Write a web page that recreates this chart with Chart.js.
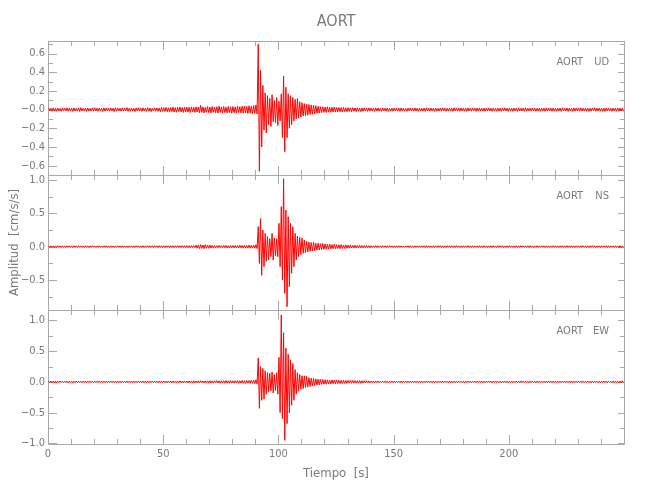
<!DOCTYPE html>
<html>
<head>
<meta charset="utf-8">
<title>AORT</title>
<script src="https://cdn.jsdelivr.net/npm/chart.js@4.4.1/dist/chart.umd.min.js"></script>
<style>
  body { margin: 0; background: #fff; }
  #wrap { position: relative; width: 650px; height: 500px; }
  #wrap canvas { position: absolute; left: 0; top: 0; }
</style>
</head>
<body>
<div id="wrap">
  <canvas id="ud" width="650" height="500"></canvas>
  <canvas id="ns" width="650" height="500"></canvas>
  <canvas id="ew" width="650" height="500"></canvas>
</div>
<script>
// ---- data: envelope of each 1 s window (upper peak / lower peak size) ----
const station = "AORT";
const xTicks = [0, 50, 100, 150, 200];

const udTicks = [-0.6, -0.4, -0.2, 0, 0.2, 0.4, 0.6];
const udTickLabels = ["\u22120.6", "\u22120.4", "\u22120.2", "\u22120.0", "0.2", "0.4", "0.6"];
const nsTicks = [-0.5, 0, 0.5, 1.0];
const nsTickLabels = ["\u22120.5", "0.0", "0.5", "1.0"];
const ewTicks = [-1.0, -0.5, 0, 0.5, 1.0];
const ewTickLabels = ["\u22121.0", "\u22120.5", "0.0", "0.5", "1.0"];

const udHi = [
  .016,.013,.019,.015,.017,.012,.018,.014,.02,.016,
  .015,.019,.013,.017,.021,.014,.016,.018,.013,.017,
  .019,.015,.017,.014,.02,.016,.013,.018,.015,.021,
  .017,.014,.019,.016,.022,.015,.018,.013,.017,.02,
  .016,.019,.015,.021,.017,.014,.02,.018,.016,.023,
  .021,.025,.019,.023,.027,.021,.024,.029,.022,.026,
  .028,.024,.03,.026,.031,.027,.045,.03,.025,.033,
  .028,.034,.026,.031,.037,.029,.033,.027,.035,.03,
  .033,.029,.037,.032,.036,.039,.033,.041,.037,.044,
  .05,.70,.42,.26,.18,.15,.12,.16,.10,.13,
  .09,.17,.36,.24,.17,.15,.13,.11,.12,.085,
  .075,.065,.06,.055,.05,.048,.042,.036,.032,.03,
  .028,.031,.026,.025,.028,.023,.024,.022,.025,.02,
  .022,.019,.021,.018,.02,.017,.019,.02,.016,.018,
  .017,.015,.019,.016,.014,.018,.015,.017,.013,.016,
  .018,.014,.016,.019,.015,.013,.017,.016,.014,.018,
  .015,.017,.013,.016,.019,.014,.016,.015,.018,.013,
  .016,.019,.015,.014,.017,.016,.02,.014,.015,.017,
  .014,.016,.018,.013,.016,.015,.017,.019,.014,.016,
  .015,.018,.014,.016,.013,.017,.015,.016,.019,.014,
  .016,.014,.017,.015,.018,.013,.016,.02,.015,.014,
  .017,.015,.013,.016,.018,.014,.017,.015,.016,.019,
  .014,.016,.015,.018,.013,.017,.016,.014,.019,.015,
  .016,.018,.014,.015,.017,.013,.016,.019,.015,.017,
  .014,.016,.018,.015,.013,.017,.016,.019,.015,.016
];
const udLo = [
  .015,.018,.013,.017,.014,.019,.016,.013,.017,.015,
  .018,.014,.016,.02,.015,.013,.019,.016,.014,.018,
  .015,.017,.013,.019,.016,.014,.018,.015,.02,.016,
  .014,.018,.016,.013,.019,.017,.015,.02,.014,.017,
  .019,.015,.018,.016,.021,.014,.017,.019,.022,.018,
  .02,.023,.027,.021,.025,.028,.022,.026,.03,.024,
  .027,.031,.025,.029,.026,.034,.03,.036,.028,.032,
  .035,.029,.033,.038,.03,.034,.031,.036,.032,.039,
  .034,.038,.031,.035,.04,.036,.042,.038,.045,.04,
  .046,.66,.40,.22,.25,.16,.18,.13,.14,.17,
  .12,.30,.45,.30,.20,.16,.12,.10,.09,.08,
  .07,.068,.06,.052,.05,.045,.04,.037,.033,.03,
  .029,.027,.03,.025,.026,.024,.022,.025,.021,.023,
  .02,.022,.019,.021,.017,.02,.018,.016,.019,.017,
  .016,.018,.015,.017,.019,.014,.016,.018,.015,.017,
  .014,.017,.019,.015,.016,.018,.014,.016,.017,.015,
  .018,.014,.016,.019,.015,.017,.014,.018,.016,.015,
  .017,.015,.018,.016,.014,.019,.015,.016,.018,.014,
  .016,.019,.015,.017,.014,.018,.016,.015,.017,.019,
  .016,.014,.018,.015,.017,.016,.019,.014,.016,.018,
  .015,.017,.014,.019,.016,.015,.018,.016,.014,.017,
  .016,.018,.015,.017,.014,.019,.016,.015,.018,.016,
  .017,.015,.019,.014,.016,.018,.015,.017,.016,.014,
  .018,.016,.015,.017,.019,.016,.014,.018,.016,.015,
  .017,.019,.015,.016,.018,.014,.017,.016,.015,.018
];

const nsHi = [
  .011,.013,.01,.012,.014,.011,.012,.01,.013,.012,
  .01,.013,.011,.014,.012,.01,.013,.011,.012,.014,
  .012,.01,.013,.011,.012,.014,.011,.013,.01,.012,
  .013,.011,.014,.012,.01,.013,.012,.011,.014,.012,
  .011,.013,.012,.014,.011,.013,.015,.012,.014,.013,
  .012,.014,.013,.015,.012,.014,.016,.013,.015,.014,
  .016,.014,.017,.015,.022,.026,.03,.025,.028,.022,
  .024,.019,.017,.015,.018,.016,.019,.017,.015,.018,
  .016,.019,.017,.02,.018,.021,.019,.022,.02,.024,
  .03,.30,.42,.25,.20,.15,.12,.20,.13,.12,
  .35,.60,1.02,.55,.45,.35,.30,.20,.16,.14,
  .13,.10,.08,.07,.062,.065,.05,.055,.045,.05,
  .04,.035,.04,.03,.035,.03,.028,.03,.025,.027,
  .022,.025,.02,.022,.018,.02,.017,.016,.018,.015,
  .014,.012,.015,.013,.011,.014,.012,.013,.015,.012,
  .011,.013,.014,.012,.01,.013,.012,.014,.011,.013,
  .012,.014,.011,.013,.015,.012,.01,.013,.012,.014,
  .013,.011,.012,.014,.012,.013,.011,.015,.012,.01,
  .013,.012,.014,.011,.013,.012,.01,.014,.012,.013,
  .011,.013,.012,.015,.011,.012,.014,.013,.01,.012,
  .014,.012,.011,.013,.012,.014,.013,.011,.012,.015,
  .012,.01,.013,.012,.014,.011,.013,.012,.011,.014,
  .013,.011,.012,.014,.01,.013,.012,.014,.011,.013,
  .012,.014,.013,.011,.012,.013,.015,.012,.011,.013,
  .012,.013,.011,.014,.012,.01,.013,.012,.014,.012
];
const nsLo = [
  .012,.01,.013,.011,.012,.014,.01,.013,.011,.012,
  .014,.011,.012,.01,.013,.012,.011,.014,.012,.01,
  .013,.012,.011,.014,.01,.012,.013,.011,.014,.012,
  .011,.013,.012,.01,.014,.011,.013,.012,.01,.013,
  .012,.014,.011,.013,.012,.015,.011,.013,.012,.014,
  .013,.012,.015,.013,.014,.012,.015,.014,.013,.016,
  .015,.017,.014,.016,.024,.028,.025,.03,.023,.026,
  .02,.022,.016,.018,.015,.019,.016,.018,.02,.017,
  .019,.017,.021,.018,.02,.022,.019,.023,.021,.025,
  .028,.25,.43,.30,.22,.20,.15,.20,.14,.15,
  .30,.50,.70,.90,.60,.40,.30,.20,.15,.12,
  .10,.09,.08,.07,.065,.06,.052,.05,.045,.04,
  .038,.036,.033,.03,.031,.028,.03,.026,.027,.024,
  .023,.021,.022,.019,.02,.017,.018,.016,.015,.017,
  .013,.011,.014,.012,.013,.011,.015,.012,.01,.013,
  .012,.014,.011,.013,.012,.01,.014,.012,.013,.011,
  .013,.012,.01,.014,.012,.011,.013,.015,.012,.011,
  .012,.014,.013,.011,.013,.012,.014,.01,.013,.012,
  .011,.013,.012,.014,.012,.011,.013,.012,.015,.011,
  .013,.012,.014,.011,.013,.012,.011,.014,.013,.012,
  .011,.013,.014,.012,.013,.011,.012,.014,.013,.011,
  .014,.012,.013,.011,.012,.014,.012,.013,.01,.012,
  .012,.014,.011,.013,.012,.011,.014,.012,.013,.012,
  .013,.011,.012,.014,.013,.012,.011,.013,.012,.014,
  .011,.012,.014,.013,.011,.013,.012,.014,.012,.013
];

const ewHi = [
  .012,.014,.011,.013,.012,.015,.011,.013,.012,.014,
  .011,.012,.014,.013,.011,.012,.015,.012,.013,.011,
  .013,.012,.014,.011,.013,.012,.011,.014,.012,.013,
  .014,.012,.013,.011,.015,.012,.013,.014,.011,.013,
  .012,.014,.013,.015,.012,.013,.014,.012,.015,.013,
  .014,.013,.015,.014,.016,.013,.015,.017,.014,.016,
  .015,.017,.016,.018,.015,.017,.019,.016,.018,.017,
  .019,.017,.018,.02,.017,.019,.018,.021,.019,.02,
  .018,.02,.022,.019,.023,.021,.025,.022,.026,.028,
  .035,.39,.25,.22,.18,.15,.14,.16,.12,.15,
  .40,1.09,.80,.55,.45,.36,.30,.20,.15,.12,
  .10,.10,.09,.07,.06,.055,.05,.045,.04,.04,
  .035,.033,.03,.032,.028,.03,.027,.025,.028,.024,
  .025,.022,.023,.021,.02,.022,.019,.02,.018,.017,
  .014,.012,.013,.015,.012,.011,.014,.013,.012,.015,
  .013,.011,.012,.014,.013,.012,.015,.011,.013,.012,
  .014,.013,.011,.012,.015,.013,.012,.014,.011,.013,
  .012,.015,.013,.011,.014,.012,.013,.012,.014,.011,
  .013,.012,.014,.013,.011,.015,.012,.013,.014,.012,
  .011,.014,.013,.012,.015,.011,.013,.014,.012,.013,
  .012,.013,.011,.014,.012,.015,.013,.012,.011,.014,
  .013,.012,.014,.011,.013,.012,.015,.013,.012,.014,
  .011,.013,.012,.014,.013,.011,.012,.015,.013,.012,
  .014,.012,.013,.011,.014,.013,.012,.015,.011,.013,
  .012,.014,.013,.012,.011,.014,.013,.012,.015,.018
];
const ewLo = [
  .013,.011,.014,.012,.013,.011,.014,.012,.015,.012,
  .014,.013,.011,.012,.014,.013,.012,.014,.011,.013,
  .012,.011,.013,.014,.012,.014,.013,.012,.014,.011,
  .013,.015,.012,.014,.012,.013,.011,.013,.014,.012,
  .014,.012,.015,.013,.014,.012,.013,.015,.013,.014,
  .013,.015,.014,.016,.013,.015,.016,.014,.017,.015,
  .016,.015,.018,.016,.017,.019,.016,.018,.017,.019,
  .018,.02,.017,.019,.021,.018,.02,.019,.022,.02,
  .021,.019,.023,.02,.022,.024,.021,.025,.023,.027,
  .032,.43,.30,.28,.20,.16,.15,.18,.14,.20,
  .50,.60,.95,.68,.50,.38,.30,.20,.15,.12,
  .11,.09,.085,.075,.065,.06,.05,.048,.042,.038,
  .036,.032,.034,.029,.03,.027,.028,.026,.024,.025,
  .022,.023,.021,.02,.019,.021,.018,.017,.019,.016,
  .013,.015,.012,.014,.011,.013,.012,.015,.013,.011,
  .014,.012,.013,.015,.011,.013,.012,.014,.012,.013,
  .011,.014,.013,.012,.014,.011,.015,.012,.013,.012,
  .014,.012,.011,.013,.015,.012,.014,.013,.011,.012,
  .015,.013,.012,.014,.012,.013,.011,.014,.013,.015,
  .012,.013,.014,.011,.013,.012,.015,.012,.014,.013,
  .011,.014,.012,.013,.015,.012,.011,.013,.014,.012,
  .013,.015,.012,.014,.011,.013,.012,.014,.013,.011,
  .014,.012,.013,.011,.015,.012,.014,.013,.012,.013,
  .012,.014,.011,.013,.012,.015,.013,.011,.014,.012,
  .013,.012,.015,.011,.013,.014,.012,.013,.016,.014
];

// ---- look ----
const traceColor = "#ff0000";
const axisColor = "#a8a8a8";
const textColor = "#7a7a7a";
const fontFamily = "'Liberation Sans Narrow', 'DejaVu Sans Condensed', 'Liberation Sans', sans-serif";

// each 1 s window gives its upper peak then its lower peak
const envelopePoints = (hi, lo) => {
    const pts = [];
    hi.forEach((h, i) => {
        pts.push({ x: i + 0.25, y: h });
        pts.push({ x: i + 0.75, y: -lo[i] });
    });
    return pts;
};

// box, inward ticks (IDL style) and the station/component tag
const framePlugin = {
    id: "frame",
    beforeDatasetsDraw(chart, args, opts) {
        const { ctx, chartArea: a } = chart;
        const xs = chart.scales.x, ys = chart.scales.y;
        ctx.save();
        ctx.strokeStyle = axisColor;
        ctx.lineWidth = 1;
        ctx.beginPath();
        ctx.rect(a.left + 0.5, a.top + 0.5, a.right - a.left, a.bottom - a.top);
        for (let v = 0; v <= xs.max; v += 10) {
            const px = Math.round(xs.getPixelForValue(v)) + 0.5;
            const len = v % 50 === 0 ? 9 : 5;
            ctx.moveTo(px, a.bottom); ctx.lineTo(px, a.bottom - len);
            ctx.moveTo(px, a.top); ctx.lineTo(px, a.top + len);
        }
        for (let k = Math.ceil(ys.min / opts.minor); k * opts.minor < ys.max; k++) {
            const v = k * opts.minor;
            if (v <= ys.min) continue;
            const major = opts.major.some(m => Math.abs(m - v) < 1e-6);
            const py = Math.round(ys.getPixelForValue(v)) + 0.5;
            ctx.moveTo(a.left, py); ctx.lineTo(a.left + (major ? 9 : 5), py);
            ctx.moveTo(a.right, py); ctx.lineTo(a.right - (major ? 6 : 4), py);
        }
        ctx.stroke();
        ctx.restore();
    },
    afterDraw(chart, args, opts) {
        const { ctx, chartArea: a } = chart;
        ctx.save();
        ctx.fillStyle = textColor;
        ctx.font = "11px " + fontFamily;
        ctx.textAlign = "right";
        ctx.textBaseline = "middle";
        ctx.fillText(station, a.right - 41, a.top + 21);
        ctx.fillText(opts.comp, a.right - 15, a.top + 21);
        ctx.restore();
    }
};

const makePanel = (id, p) => {
    const isBottom = !!p.bottomAxis;
    return new Chart(document.getElementById(id), {
        type: "line",
        data: {
            datasets: [{
                data: envelopePoints(p.hi, p.lo),
                borderColor: traceColor,
                borderWidth: 1,
                pointRadius: 0,
                tension: 0,
                fill: false
            }]
        },
        plugins: [framePlugin],
        options: {
            responsive: false,
            animation: false,
            events: [],
            layout: { padding: p.padding },
            plugins: {
                legend: { display: false },
                tooltip: { enabled: false },
                title: {
                    display: !!p.title,
                    text: p.title || "",
                    fullSize: false,
                    color: textColor,
                    font: { family: fontFamily, size: 16, weight: "normal" },
                    padding: { top: 12.5, bottom: 9.3 }
                },
                frame: { comp: p.comp, major: p.ticks, minor: p.minor }
            },
            scales: {
                x: {
                    type: "linear",
                    min: 0,
                    max: 250,
                    display: isBottom,
                    afterBuildTicks: s => { s.ticks = xTicks.map(v => ({ value: v })); },
                    afterFit: s => { s.height = isBottom ? 40 : 0; },
                    grid: { display: false, drawTicks: false },
                    border: { display: false },
                    ticks: {
                        color: textColor,
                        font: { family: fontFamily, size: 11 },
                        padding: 4,
                        maxRotation: 0,
                        autoSkip: false,
                        callback: v => String(v)
                    },
                    title: {
                        display: isBottom,
                        text: "Tiempo  [s]",
                        color: textColor,
                        font: { family: fontFamily, size: 13 },
                        padding: { top: 0, bottom: 3 }
                    }
                },
                y: {
                    type: "linear",
                    min: p.min,
                    max: p.max,
                    afterBuildTicks: s => { s.ticks = p.ticks.map(v => ({ value: v })); },
                    afterFit: s => { s.width = 48; },
                    grid: { display: false, drawTicks: false },
                    border: { display: false },
                    ticks: {
                        color: textColor,
                        font: { family: fontFamily, size: 11 },
                        padding: 3,
                        autoSkip: false,
                        callback: (v, i) => p.labels[i]
                    },
                    title: {
                        display: !!p.yTitle,
                        text: p.yTitle || "",
                        color: textColor,
                        font: { family: fontFamily, size: 13 },
                        padding: { top: 7, bottom: 0 }
                    }
                }
            }
        }
    });
};

makePanel("ud", {
    comp: "UD", hi: udHi, lo: udLo, min: -0.70, max: 0.735,
    ticks: udTicks, labels: udTickLabels, minor: 0.1,
    title: station,
    padding: { top: 0, bottom: 325, left: 0, right: 26 }
});
makePanel("ns", {
    comp: "NS", hi: nsHi, lo: nsLo, min: -0.95, max: 1.075,
    ticks: nsTicks, labels: nsTickLabels, minor: 0.25,
    yTitle: "Amplitud  [cm/s/s]",
    padding: { top: 175, bottom: 190, left: 0, right: 26 }
});
makePanel("ew", {
    comp: "EW", hi: ewHi, lo: ewLo, min: -1.01, max: 1.17,
    ticks: ewTicks, labels: ewTickLabels, minor: 0.25,
    bottomAxis: true,
    padding: { top: 310, bottom: 16, left: 0, right: 26 }
});
</script>
</body>
</html>
